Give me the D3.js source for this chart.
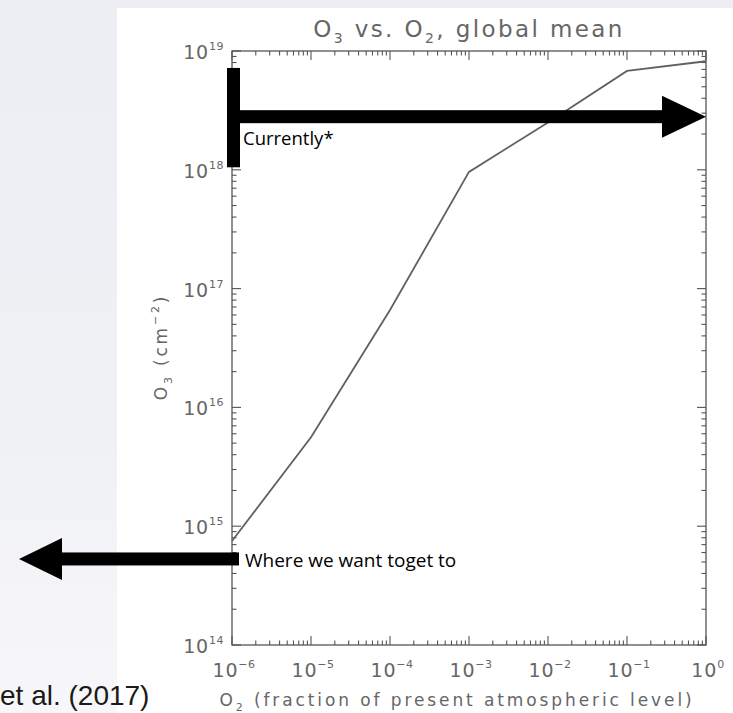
<!DOCTYPE html>
<html>
<head>
<meta charset="utf-8">
<script src="https://cdn.jsdelivr.net/npm/d3@7"></script>
<style>
  body { margin: 0; background: #fff; }
  svg { display: block; }
</style>
</head>
<body>
<svg id="chart" width="733" height="713"></svg>
<script>
// O2 level (fraction of PAL) and O3 column (cm^-2)
const o2Levels = [1e-6, 1e-5, 1e-4, 1e-3, 1e-2, 1e-1, 1e0];
const o3Column = [7.5e14, 5.6e15, 6.6e16, 9.6e17, 2.5e18, 6.8e18, 8.2e18];

const xTickExp = [-6, -5, -4, -3, -2, -1, 0];
const yTickExp = [14, 15, 16, 17, 18, 19];

// annotation levels
const currentRange = [7.2e18, 1.05e18];
const currentLevel = 2.8e18;
const targetLevel = 5.3e14;

const margin = {top: 51, right: 27, bottom: 68, left: 232};
const W = 733, H = 713;
const width = W - margin.left - margin.right;
const height = H - margin.top - margin.bottom;

const svg = d3.select("#chart");

// slide background (grey-ish left strip)
const defs = svg.append("defs");
const grad = defs.append("linearGradient").attr("id", "bg").attr("x1", 0).attr("x2", 0).attr("y1", 0).attr("y2", 1);
grad.append("stop").attr("offset", "0%").attr("stop-color", "#eceef3");
grad.append("stop").attr("offset", "60%").attr("stop-color", "#f0f1f5");
grad.append("stop").attr("offset", "100%").attr("stop-color", "#f7f7f9");
svg.append("rect").attr("width", W).attr("height", H).attr("fill", "url(#bg)");
// the pasted figure
svg.append("rect").attr("x", 117).attr("y", 8).attr("width", W - 117).attr("height", H - 8).attr("fill", "#ffffff");

const x = d3.scaleLog().domain([1e-6, 1]).range([0, width]);
const y = d3.scaleLog().domain([1e14, 1e19]).range([height, 0]);

const g = svg.append("g").attr("transform", `translate(${margin.left},${margin.top})`);

const axisColor = "#555";
const labelColor = "#666";
const fontFam = "'DejaVu Sans', sans-serif";
const noteFont = "'Open Sans', 'Liberation Sans', sans-serif";

// frame
g.append("rect").attr("width", width).attr("height", height)
  .attr("fill", "none").attr("stroke", axisColor).attr("stroke-width", 1.3);

// ticks (inward, IDL style)
function minorVals(lo, hi) {
  const out = [];
  for (let e = lo; e < hi; e++) for (let k = 1; k < 10; k++) out.push(k * Math.pow(10, e));
  out.push(Math.pow(10, hi));
  return out;
}
const xTicks = minorVals(-6, 0);
const yTicks = minorVals(14, 19);
const isMajor = v => Math.abs(Math.log10(v) - Math.round(Math.log10(v))) < 1e-9;

const ticks = g.append("g").attr("stroke", axisColor).attr("stroke-width", 1.1);
xTicks.forEach(v => {
  const len = isMajor(v) ? 9 : 4.5;
  ticks.append("line").attr("x1", x(v)).attr("x2", x(v)).attr("y1", height).attr("y2", height - len);
  ticks.append("line").attr("x1", x(v)).attr("x2", x(v)).attr("y1", 0).attr("y2", len);
});
yTicks.forEach(v => {
  const len = isMajor(v) ? 9 : 4.5;
  ticks.append("line").attr("y1", y(v)).attr("y2", y(v)).attr("x1", 0).attr("x2", len);
  ticks.append("line").attr("y1", y(v)).attr("y2", y(v)).attr("x1", width).attr("x2", width - len);
});

// tick labels
function powLabel(sel, exp) {
  sel.append("tspan").text("10");
  sel.append("tspan").attr("dy", -9).attr("font-size", 11).attr("letter-spacing", 0.5)
    .text(exp < 0 ? "\u2212" + (-exp) : exp);
}
xTickExp.forEach(e => {
  const t = g.append("text").attr("x", x(Math.pow(10, e)) + 2).attr("y", height + 32)
    .attr("text-anchor", "middle").attr("fill", labelColor)
    .attr("font-family", fontFam).attr("font-size", 19).attr("letter-spacing", 0.8);
  powLabel(t, e);
});
yTickExp.forEach(e => {
  const t = g.append("text").attr("x", -8).attr("y", y(Math.pow(10, e)) + 8)
    .attr("text-anchor", "end").attr("fill", labelColor)
    .attr("font-family", fontFam).attr("font-size", 19).attr("letter-spacing", 0.8);
  powLabel(t, e);
});

// title
const title = svg.append("text").attr("x", margin.left + width / 2).attr("y", 37)
  .attr("text-anchor", "middle").attr("fill", labelColor)
  .attr("font-family", fontFam).attr("font-size", 23).attr("letter-spacing", 2.4);
title.append("tspan").text("O");
title.append("tspan").attr("dy", 6).attr("font-size", 14).text("3");
title.append("tspan").attr("dy", -6).text(" vs. O");
title.append("tspan").attr("dy", 6).attr("font-size", 14).text("2");
title.append("tspan").attr("dy", -6).text(", global mean");

// x label
const xl = svg.append("text").attr("x", margin.left + width / 2 - 12).attr("y", 706)
  .attr("text-anchor", "middle").attr("fill", labelColor)
  .attr("font-family", fontFam).attr("font-size", 17).attr("letter-spacing", 2.9);
xl.append("tspan").text("O");
xl.append("tspan").attr("dy", 5).attr("font-size", 11).text("2");
xl.append("tspan").attr("dy", -5).text(" (fraction of present atmospheric level)");

// y label
const yl = svg.append("text").attr("transform", `translate(167,347) rotate(-90)`)
  .attr("text-anchor", "middle").attr("fill", labelColor)
  .attr("font-family", fontFam).attr("font-size", 17).attr("letter-spacing", 2.8);
yl.append("tspan").text("O");
yl.append("tspan").attr("dy", 5).attr("font-size", 11).text("3");
yl.append("tspan").attr("dy", -5).text(" (cm");
yl.append("tspan").attr("dy", -8).attr("font-size", 11).text("\u22122");
yl.append("tspan").attr("dy", 8).text(")");

// data line
const pts = o2Levels.map((v, i) => [v, o3Column[i]]);
g.append("path").datum(pts)
  .attr("fill", "none").attr("stroke", "#606060").attr("stroke-width", 1.8)
  .attr("d", d3.line().x(d => x(d[0])).y(d => y(d[1])));

// annotations
const ann = g.append("g").attr("fill", "#000");
// vertical bar for current range
ann.append("rect").attr("x", -5).attr("y", y(currentRange[0]))
  .attr("width", 13).attr("height", y(currentRange[1]) - y(currentRange[0]));
// right arrow
const ay = y(currentLevel);
ann.append("rect").attr("x", 8).attr("y", ay - 6.5).attr("width", x(1) - 44 - 8).attr("height", 13);
ann.append("path").attr("d", `M${x(1) - 44},${ay - 21} L${x(1)},${ay} L${x(1) - 44},${ay + 21} Z`);
g.append("text").attr("x", 11).attr("y", ay + 28)
  .attr("font-family", noteFont).attr("font-size", 18.5)
  .attr("fill", "#000").text("Currently*");

// left arrow
const ly = y(targetLevel);
ann.append("rect").attr("x", -170).attr("y", ly - 6.5).attr("width", 177).attr("height", 13);
ann.append("path").attr("d", `M-170,${ly - 21} L-213,${ly} L-170,${ly + 21} Z`);
g.append("text").attr("x", 13).attr("y", ly + 8)
  .attr("font-family", noteFont).attr("font-size", 19)
  .attr("fill", "#000").text("Where we want toget to");

// citation fragment
svg.append("text").attr("x", 0).attr("y", 705)
  .attr("font-family", "'Liberation Sans', Arial, sans-serif").attr("font-size", 28)
  .attr("fill", "#1a1a1a").text("et al. (2017)");
</script>
</body>
</html>
